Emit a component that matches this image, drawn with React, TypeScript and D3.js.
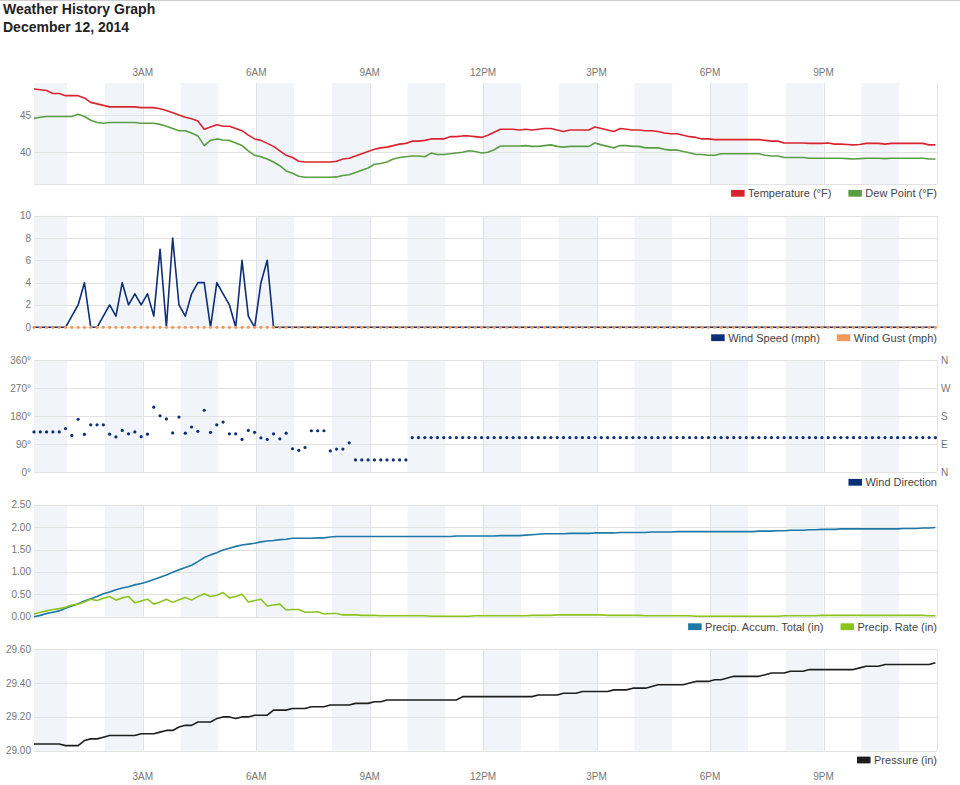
import { useEffect, useRef } from 'react'
import * as d3 from 'd3'

// readings every 10 minutes, first one at 00:07:30
const FIRST_READING = 7.5
const INTERVAL = 10

const hourTicks = [3, 6, 9, 12, 15, 18, 21]
const hourLabels = ['3AM', '6AM', '9AM', '12PM', '3PM', '6PM', '9PM']

const temperature = [
  48.5, 48.4, 48.3, 47.9, 47.9, 47.6, 47.6, 47.6, 47.3, 46.7,
  46.5, 46.3, 46.1, 46.1, 46.1, 46.1, 46.1, 46.0, 46.0, 46.0,
  45.85, 45.6, 45.3, 45.0, 44.7, 44.5, 44.2, 43.1, 43.4, 43.7,
  43.5, 43.5, 43.2, 42.9, 42.3, 41.8, 41.6, 41.2, 40.8, 40.2,
  39.6, 39.3, 38.8, 38.7, 38.7, 38.7, 38.7, 38.7, 38.8, 39.1,
  39.2, 39.5, 39.8, 40.1, 40.4, 40.6, 40.7, 40.9, 41.1, 41.2,
  41.5, 41.5, 41.6, 41.8, 41.8, 41.8, 42.1, 42.1, 42.2, 42.2,
  42.1, 42.0, 42.3, 42.7, 43.1, 43.1, 43.1, 43.0, 43.1, 43.0,
  43.1, 43.2, 43.2, 43.0, 42.8, 43.0, 43.0, 43.0, 43.0, 43.4,
  43.2, 43.0, 42.8, 43.2, 43.1, 43.0, 43.0, 42.9, 42.9, 42.8,
  42.6, 42.5, 42.5, 42.3, 42.1, 42.0, 41.8, 41.8, 41.7, 41.7,
  41.7, 41.7, 41.7, 41.7, 41.7, 41.7, 41.6, 41.5, 41.5, 41.25,
  41.25, 41.25, 41.25, 41.2, 41.2, 41.2, 41.25, 41.1, 41.1, 41.05,
  41.0, 41.05, 41.2, 41.2, 41.2, 41.1, 41.2, 41.2, 41.2, 41.2,
  41.2, 41.2, 41.0, 41.0,
]

const dewPoint = [
  44.55, 44.7, 44.8, 44.8, 44.8, 44.8, 44.8, 45.1, 44.8, 44.3,
  44.0, 43.9, 44.0, 44.0, 44.0, 44.0, 44.0, 43.9, 43.9, 43.9,
  43.75, 43.5, 43.2, 42.9, 42.9, 42.6, 42.2, 40.9, 41.6, 41.8,
  41.65, 41.6, 41.25, 40.9, 40.2, 39.6, 39.4, 39.1, 38.7, 38.2,
  37.5, 37.2, 36.8, 36.65, 36.65, 36.65, 36.65, 36.65, 36.7, 36.9,
  37.0, 37.3, 37.6, 37.9, 38.4, 38.5, 38.7, 39.1, 39.3, 39.4,
  39.5, 39.5, 39.4, 39.9, 39.7, 39.7, 39.8, 39.9, 40.0, 40.2,
  40.1, 39.9, 40.0, 40.35, 40.85, 40.85, 40.85, 40.85, 40.9, 40.8,
  40.8, 40.9, 41.0, 40.8, 40.7, 40.8, 40.8, 40.8, 40.8, 41.25,
  41.0, 40.8, 40.6, 40.9, 40.9, 40.8, 40.8, 40.6, 40.6, 40.6,
  40.4, 40.3, 40.3, 40.1, 39.95, 39.7, 39.7, 39.6, 39.6, 39.8,
  39.8, 39.8, 39.8, 39.8, 39.8, 39.8, 39.6, 39.5, 39.5, 39.3,
  39.3, 39.3, 39.3, 39.2, 39.2, 39.2, 39.2, 39.2, 39.2, 39.15,
  39.1, 39.15, 39.2, 39.2, 39.2, 39.15, 39.2, 39.2, 39.2, 39.2,
  39.2, 39.2, 39.1, 39.1,
]

const windSpeed = [
  0, 0, 0, 0, 0, 0, 1, 2, 4, 0,
  0, 1, 2, 1, 4, 2, 3, 2, 3, 1,
  7, 0, 8, 2, 1, 3, 4, 4, 0, 4,
  3, 2, 0, 6, 1, 0, 4, 6, 0, 0,
  0, 0, 0, 0, 0, 0, 0, 0, 0, 0,
  0, 0, 0, 0, 0, 0, 0, 0, 0, 0,
  0, 0, 0, 0, 0, 0, 0, 0, 0, 0,
  0, 0, 0, 0, 0, 0, 0, 0, 0, 0,
  0, 0, 0, 0, 0, 0, 0, 0, 0, 0,
  0, 0, 0, 0, 0, 0, 0, 0, 0, 0,
  0, 0, 0, 0, 0, 0, 0, 0, 0, 0,
  0, 0, 0, 0, 0, 0, 0, 0, 0, 0,
  0, 0, 0, 0, 0, 0, 0, 0, 0, 0,
  0, 0, 0, 0, 0, 0, 0, 0, 0, 0,
  0, 0, 0, 0,
]

const windGust = [
  0, 0, 0, 0, 0, 0, 0, 0, 0, 0,
  0, 0, 0, 0, 0, 0, 0, 0, 0, 0,
  0, 0, 0, 0, 0, 0, 0, 0, 0, 0,
  0, 0, 0, 0, 0, 0, 0, 0, 0, 0,
  0, 0, 0, 0, 0, 0, 0, 0, 0, 0,
  0, 0, 0, 0, 0, 0, 0, 0, 0, 0,
  0, 0, 0, 0, 0, 0, 0, 0, 0, 0,
  0, 0, 0, 0, 0, 0, 0, 0, 0, 0,
  0, 0, 0, 0, 0, 0, 0, 0, 0, 0,
  0, 0, 0, 0, 0, 0, 0, 0, 0, 0,
  0, 0, 0, 0, 0, 0, 0, 0, 0, 0,
  0, 0, 0, 0, 0, 0, 0, 0, 0, 0,
  0, 0, 0, 0, 0, 0, 0, 0, 0, 0,
  0, 0, 0, 0, 0, 0, 0, 0, 0, 0,
  0, 0, 0, 0,
]

const windDirection = [
  129, 129, 129, 129, 129, 140, 118, 170, 121, 152,
  152, 152, 122, 113, 134, 123, 129, 114, 122, 209,
  181, 171, 126, 177, 125, 145, 131, 199, 128, 152,
  161, 123, 123, 105, 134, 128, 110, 105, 123, 107,
  125, 75, 70, 79, 133, 133, 133, 68, 74, 74,
  94, 39, 39, 39, 39, 39, 39, 39, 39, 39,
  111, 111, 111, 111, 111, 111, 111, 111, 111, 111,
  111, 111, 111, 111, 111, 111, 111, 111, 111, 111,
  111, 111, 111, 111, 111, 111, 111, 111, 111, 111,
  111, 111, 111, 111, 111, 111, 111, 111, 111, 111,
  111, 111, 111, 111, 111, 111, 111, 111, 111, 111,
  111, 111, 111, 111, 111, 111, 111, 111, 111, 111,
  111, 111, 111, 111, 111, 111, 111, 111, 111, 111,
  111, 111, 111, 111, 111, 111, 111, 111, 111, 111,
  111, 111, 111, 111,
]

const precipTotal = [
  0.00, 0.03, 0.07, 0.10, 0.13, 0.19, 0.24, 0.29, 0.35, 0.40,
  0.45, 0.51, 0.55, 0.60, 0.64, 0.67, 0.71, 0.74, 0.78, 0.83,
  0.88, 0.93, 0.99, 1.05, 1.10, 1.15, 1.23, 1.32, 1.38, 1.43,
  1.49, 1.53, 1.57, 1.60, 1.62, 1.64, 1.67, 1.69, 1.70, 1.72,
  1.73, 1.75, 1.75, 1.75, 1.75, 1.76, 1.76, 1.78, 1.79, 1.79,
  1.79, 1.79, 1.79, 1.79, 1.79, 1.79, 1.79, 1.79, 1.79, 1.79,
  1.79, 1.79, 1.79, 1.79, 1.79, 1.79, 1.79, 1.80, 1.80, 1.80,
  1.80, 1.80, 1.80, 1.80, 1.81, 1.81, 1.81, 1.81, 1.82, 1.83,
  1.84, 1.85, 1.85, 1.85, 1.85, 1.86, 1.86, 1.86, 1.86, 1.87,
  1.87, 1.87, 1.87, 1.88, 1.88, 1.88, 1.88, 1.88, 1.89, 1.89,
  1.89, 1.89, 1.90, 1.90, 1.90, 1.90, 1.90, 1.90, 1.90, 1.90,
  1.90, 1.90, 1.90, 1.90, 1.90, 1.91, 1.91, 1.91, 1.92, 1.92,
  1.93, 1.93, 1.93, 1.94, 1.94, 1.95, 1.95, 1.95, 1.96, 1.96,
  1.96, 1.96, 1.96, 1.96, 1.96, 1.96, 1.96, 1.96, 1.97, 1.97,
  1.97, 1.98, 1.98, 1.99,
]

const precipRate = [
  0.06, 0.10, 0.13, 0.16, 0.18, 0.21, 0.26, 0.28, 0.33, 0.39,
  0.36, 0.41, 0.45, 0.37, 0.42, 0.45, 0.31, 0.35, 0.39, 0.28,
  0.33, 0.39, 0.32, 0.38, 0.43, 0.37, 0.45, 0.51, 0.45, 0.48,
  0.54, 0.42, 0.45, 0.50, 0.33, 0.36, 0.39, 0.24, 0.26, 0.28,
  0.15, 0.16, 0.16, 0.10, 0.10, 0.11, 0.06, 0.07, 0.07, 0.04,
  0.04, 0.04, 0.03, 0.03, 0.03, 0.02, 0.02, 0.02, 0.02, 0.02,
  0.02, 0.02, 0.02, 0.01, 0.01, 0.01, 0.01, 0.01, 0.01, 0.01,
  0.02, 0.02, 0.02, 0.02, 0.02, 0.02, 0.02, 0.02, 0.02, 0.03,
  0.03, 0.03, 0.03, 0.04, 0.04, 0.04, 0.04, 0.04, 0.04, 0.04,
  0.04, 0.03, 0.03, 0.03, 0.03, 0.03, 0.03, 0.02, 0.02, 0.02,
  0.02, 0.02, 0.02, 0.02, 0.02, 0.01, 0.01, 0.01, 0.01, 0.01,
  0.01, 0.01, 0.01, 0.01, 0.01, 0.01, 0.01, 0.01, 0.01, 0.02,
  0.02, 0.02, 0.02, 0.02, 0.02, 0.03, 0.03, 0.03, 0.03, 0.03,
  0.03, 0.03, 0.03, 0.03, 0.03, 0.03, 0.03, 0.03, 0.03, 0.03,
  0.03, 0.03, 0.02, 0.02,
]

const pressure = [
  29.04, 29.04, 29.04, 29.04, 29.04, 29.03, 29.03, 29.03, 29.06, 29.07,
  29.07, 29.08, 29.09, 29.09, 29.09, 29.09, 29.09, 29.10, 29.10, 29.10,
  29.11, 29.12, 29.12, 29.14, 29.15, 29.15, 29.17, 29.17, 29.17, 29.19,
  29.20, 29.20, 29.19, 29.20, 29.20, 29.21, 29.21, 29.21, 29.24, 29.24,
  29.24, 29.25, 29.25, 29.25, 29.26, 29.26, 29.26, 29.27, 29.27, 29.27,
  29.27, 29.28, 29.28, 29.28, 29.29, 29.29, 29.30, 29.30, 29.30, 29.30,
  29.30, 29.30, 29.30, 29.30, 29.30, 29.30, 29.30, 29.30, 29.32, 29.32,
  29.32, 29.32, 29.32, 29.32, 29.32, 29.32, 29.32, 29.32, 29.32, 29.32,
  29.33, 29.33, 29.33, 29.33, 29.34, 29.34, 29.34, 29.35, 29.35, 29.35,
  29.35, 29.35, 29.36, 29.36, 29.36, 29.37, 29.37, 29.37, 29.38, 29.39,
  29.39, 29.39, 29.39, 29.39, 29.40, 29.41, 29.41, 29.41, 29.42, 29.42,
  29.43, 29.44, 29.44, 29.44, 29.44, 29.44, 29.45, 29.46, 29.46, 29.46,
  29.47, 29.47, 29.47, 29.48, 29.48, 29.48, 29.48, 29.48, 29.48, 29.48,
  29.48, 29.49, 29.50, 29.50, 29.50, 29.51, 29.51, 29.51, 29.51, 29.51,
  29.51, 29.51, 29.51, 29.52,
]

const compassLabels = ['N', 'E', 'S', 'W', 'N']

const FONT = '"Liberation Sans", Arial, sans-serif'
const LEFT = 34
const RIGHT = 937

type Series = { name: string; values: number[]; color: string; kind: 'line' | 'dots' }
type Panel = {
  top: number
  bottom: number
  domain: [number, number]
  ticks: number[]
  format: (v: number) => string
  series: Series[]
  legendY: number
  compass?: boolean
}

export default function App() {
  const svgRef = useRef<SVGSVGElement>(null)

  useEffect(() => {
    if (!svgRef.current) return
    const svg = d3.select(svgRef.current)
    svg.selectAll('*').remove()

    const minutes = temperature.map((_, i) => FIRST_READING + i * INTERVAL)
    const x = d3.scaleLinear().domain([FIRST_READING, 1440]).range([LEFT, RIGHT])

    const panels: Panel[] = [
      {
        top: 83, bottom: 184, domain: [35.75, 49.3], ticks: [40, 45],
        format: v => String(v), legendY: 193.3,
        series: [
          { name: 'Temperature (°F)', values: temperature, color: '#d9232e', kind: 'line' },
          { name: 'Dew Point (°F)', values: dewPoint, color: '#5a9e44', kind: 'line' },
        ],
      },
      {
        top: 215.7, bottom: 327.3, domain: [0, 10], ticks: [0, 2, 4, 6, 8, 10],
        format: v => String(v), legendY: 337.7,
        series: [
          { name: 'Wind Speed (mph)', values: windSpeed, color: '#0c2f78', kind: 'line' },
          { name: 'Wind Gust (mph)', values: windGust, color: '#f0995a', kind: 'dots' },
        ],
      },
      {
        top: 360.3, bottom: 472, domain: [0, 360], ticks: [0, 90, 180, 270, 360],
        format: v => `${v}°`, legendY: 482.3, compass: true,
        series: [
          { name: 'Wind Direction', values: windDirection, color: '#0c2f78', kind: 'dots' },
        ],
      },
      {
        top: 504.7, bottom: 616.7, domain: [0, 2.5], ticks: [0, 0.5, 1, 1.5, 2, 2.5],
        format: d3.format('.2f'), legendY: 626.7,
        series: [
          { name: 'Precip. Accum. Total (in)', values: precipTotal, color: '#1c78a6', kind: 'line' },
          { name: 'Precip. Rate (in)', values: precipRate, color: '#8cc41e', kind: 'line' },
        ],
      },
      {
        top: 649.3, bottom: 750.7, domain: [29.0, 29.6], ticks: [29.0, 29.2, 29.4, 29.6],
        format: d3.format('.2f'), legendY: 760,
        series: [
          { name: 'Pressure (in)', values: pressure, color: '#1e1e1e', kind: 'line' },
        ],
      },
    ]

    svg.append('line')
      .attr('x1', 0).attr('x2', 960).attr('y1', 0.5).attr('y2', 0.5)
      .attr('stroke', '#cfcfcf')

    svg.append('text')
      .attr('x', 3).attr('y', 13.5)
      .attr('font-family', FONT).attr('font-size', 14).attr('font-weight', 'bold')
      .attr('fill', '#222')
      .text('Weather History Graph')
    svg.append('text')
      .attr('x', 3).attr('y', 31.5)
      .attr('font-family', FONT).attr('font-size', 14).attr('font-weight', 'bold')
      .attr('fill', '#222')
      .text('December 12, 2014')

    const stripeHours = d3.range(0, 24, 2)

    panels.forEach(p => {
      const y = d3.scaleLinear().domain(p.domain).range([p.bottom, p.top])
      const g = svg.append('g')

      g.selectAll('rect.stripe')
        .data(stripeHours)
        .enter()
        .append('rect')
        .attr('x', h => x(Math.max(h * 60, FIRST_READING)))
        .attr('width', h => x((h + 1) * 60) - x(Math.max(h * 60, FIRST_READING)))
        .attr('y', p.top)
        .attr('height', p.bottom - p.top)
        .attr('fill', '#f1f5fa')

      g.selectAll('line.grid')
        .data(p.ticks)
        .enter()
        .append('line')
        .attr('x1', LEFT).attr('x2', RIGHT)
        .attr('y1', d => Math.round(y(d)) + 0.5).attr('y2', d => Math.round(y(d)) + 0.5)
        .attr('stroke', '#e2e2e2')

      g.selectAll('line.vgrid')
        .data(hourTicks)
        .enter()
        .append('line')
        .attr('x1', h => Math.round(x(h * 60)) + 0.5).attr('x2', h => Math.round(x(h * 60)) + 0.5)
        .attr('y1', p.top).attr('y2', p.bottom)
        .attr('stroke', '#dde2e8')

      g.append('line')
        .attr('x1', LEFT).attr('x2', RIGHT)
        .attr('y1', Math.round(p.bottom) + 0.5).attr('y2', Math.round(p.bottom) + 0.5)
        .attr('stroke', '#e2e2e2')
      g.append('line')
        .attr('x1', RIGHT + 0.5).attr('x2', RIGHT + 0.5)
        .attr('y1', p.top).attr('y2', p.bottom)
        .attr('stroke', '#e2e2e2')

      g.selectAll('text.ytick')
        .data(p.ticks)
        .enter()
        .append('text')
        .attr('x', 31)
        .attr('y', d => y(d) + 3.5)
        .attr('text-anchor', 'end')
        .attr('font-family', FONT).attr('font-size', 10)
        .attr('fill', '#777')
        .text(d => p.format(d))

      if (p.compass) {
        g.selectAll('text.compass')
          .data(p.ticks)
          .enter()
          .append('text')
          .attr('x', 941)
          .attr('y', d => y(d) + 3.5)
          .attr('font-family', FONT).attr('font-size', 10)
          .attr('fill', '#777')
          .text((_, i) => compassLabels[i])
      }

      p.series.forEach(s => {
        if (s.kind === 'line') {
          const line = d3.line<number>()
            .x((_, i) => x(minutes[i]))
            .y(v => y(v))
          g.append('path')
            .datum(s.values)
            .attr('fill', 'none')
            .attr('stroke', s.color)
            .attr('stroke-width', 1.6)
            .attr('stroke-linejoin', 'round')
            .attr('d', line)
        } else {
          g.selectAll(null)
            .data(s.values)
            .enter()
            .append('circle')
            .attr('cx', (_, i) => x(minutes[i]))
            .attr('cy', v => y(v))
            .attr('r', 1.6)
            .attr('fill', s.color)
        }
      })

      // legend, laid out from the right edge
      let cur = RIGHT
      p.series.slice().reverse().forEach(s => {
        const t = g.append('text')
          .attr('x', cur)
          .attr('y', p.legendY + 4)
          .attr('text-anchor', 'end')
          .attr('font-family', FONT).attr('font-size', 11)
          .attr('fill', '#444')
          .text(s.name)
        const w = (t.node() as SVGTextElement).getComputedTextLength()
        const sx = cur - w - 3.5 - 13.5
        g.append('rect')
          .attr('x', sx).attr('y', p.legendY - 3.4)
          .attr('width', 13.5).attr('height', 6.8)
          .attr('fill', s.color)
        cur = sx - 17
      })
    })

    const axisLabels = (yPos: number) => {
      svg.selectAll(null)
        .data(hourTicks)
        .enter()
        .append('text')
        .attr('x', h => x(h * 60))
        .attr('y', yPos)
        .attr('text-anchor', 'middle')
        .attr('font-family', FONT).attr('font-size', 10)
        .attr('fill', '#777')
        .text((_, i) => hourLabels[i])
    }
    axisLabels(75.5)
    axisLabels(780)
  }, [])

  return (
    <div style={{ position: 'absolute', left: 0, top: 0, width: 960, height: 785, background: '#fff' }}>
      <svg ref={svgRef} width={960} height={785} />
    </div>
  )
}
